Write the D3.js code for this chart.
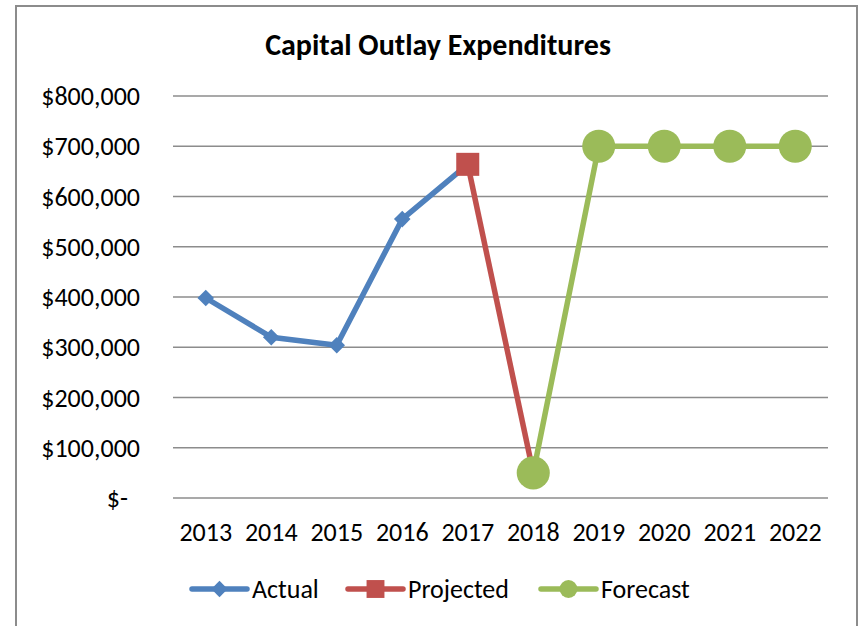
<!DOCTYPE html>
<html lang="en">
<head>
<meta charset="utf-8">
<title>Capital Outlay Expenditures</title>
<script src="https://cdn.jsdelivr.net/npm/d3@7"></script>
<style>
  body { margin: 0; background: #fff; }
  text { font-family: Carlito, Calibri, Lato, sans-serif; fill: #000; }
  .grid line { stroke: #8c8c8c; stroke-width: 1.6px; }
</style>
</head>
<body>
<div id="chart"></div>
<script>
  var years = ["2013", "2014", "2015", "2016", "2017", "2018", "2019", "2020", "2021", "2022"];
  var actual    = [398000, 320000, 304000, 555000, 664000, null, null, null, null, null];
  var projected = [null, null, null, null, 664000, 50000, null, null, null, null];
  var forecast  = [null, null, null, null, null, 50000, 700000, 700000, 700000, 700000];
  var yTicks = [0, 100000, 200000, 300000, 400000, 500000, 600000, 700000, 800000];

  var width = 862, height = 626;

  var svg = d3.select("#chart").append("svg")
      .attr("width", width)
      .attr("height", height);

  // chart border
  svg.append("rect")
      .attr("x", 16).attr("y", 6)
      .attr("width", 841).attr("height", 640)
      .attr("fill", "#fff")
      .attr("stroke", "#8c8c8c")
      .attr("stroke-width", 2);

  var x = d3.scalePoint().domain(years).range([173, 828]).padding(0.5);
  var y = d3.scaleLinear().domain([0, 800000]).range([498, 96]);

  svg.append("text")
      .attr("x", 438).attr("y", 55)
      .attr("text-anchor", "middle")
      .style("font-size", "30px")
      .style("font-weight", "bold")
      .text("Capital Outlay Expenditures");

  var grid = svg.append("g").attr("class", "grid");
  grid.selectAll("line").data(yTicks).enter().append("line")
      .attr("x1", 173).attr("x2", 828)
      .attr("y1", function(d) { return y(d); })
      .attr("y2", function(d) { return y(d); });

  var fmt = d3.format(",");
  svg.append("g").selectAll("text").data(yTicks).enter().append("text")
      .attr("x", function(d) { return d === 0 ? 128 : 140; })
      .attr("y", function(d) { return y(d) + 9; })
      .attr("text-anchor", "end")
      .style("font-size", "26px")
      .text(function(d) { return d === 0 ? "$-" : "$" + fmt(d); });

  svg.append("g").selectAll("text").data(years).enter().append("text")
      .attr("x", function(d) { return x(d); })
      .attr("y", 541)
      .attr("text-anchor", "middle")
      .style("font-size", "26px")
      .text(function(d) { return d; });

  var series = [
    { name: "Actual", values: actual, color: "#4f81bd", shape: d3.symbolDiamond2, size: 175, legSize: 170 },
    { name: "Projected", values: projected, color: "#c0504d", shape: d3.symbolSquare, size: 530, legSize: 320 },
    { name: "Forecast", values: forecast, color: "#9bbb59", shape: d3.symbolCircle, size: 860, legSize: 250 }
  ];

  var line = d3.line()
      .defined(function(d) { return d.v != null; })
      .x(function(d) { return x(d.year); })
      .y(function(d) { return y(d.v); });

  series.forEach(function(s) {
    var pts = years.map(function(yr, i) { return { year: yr, v: s.values[i] }; });
    svg.append("path")
        .datum(pts)
        .attr("fill", "none")
        .attr("stroke", s.color)
        .attr("stroke-width", 5.5)
        .attr("stroke-linejoin", "round")
        .attr("d", line);
    svg.append("g").selectAll("path")
        .data(pts.filter(function(d) { return d.v != null; }))
      .enter().append("path")
        .attr("transform", function(d) { return "translate(" + x(d.year) + "," + y(d.v) + ")"; })
        .attr("fill", s.color)
        .attr("d", d3.symbol().type(s.shape).size(s.size));
  });

  // legend
  var legX = [192, 348, 541];
  var leg = svg.append("g").selectAll("g").data(series).enter().append("g")
      .attr("transform", function(d, i) { return "translate(" + legX[i] + ",589)"; });
  leg.append("line")
      .attr("x1", 0).attr("x2", 55)
      .attr("stroke", function(d) { return d.color; })
      .attr("stroke-width", 5.5)
      .attr("stroke-linecap", "round");
  leg.append("path")
      .attr("transform", "translate(27.5,0)")
      .attr("fill", function(d) { return d.color; })
      .attr("d", function(d) { return d3.symbol().type(d.shape).size(d.legSize)(); });
  leg.append("text")
      .attr("x", 60).attr("y", 9)
      .style("font-size", "26px")
      .text(function(d) { return d.name; });
</script>
</body>
</html>
